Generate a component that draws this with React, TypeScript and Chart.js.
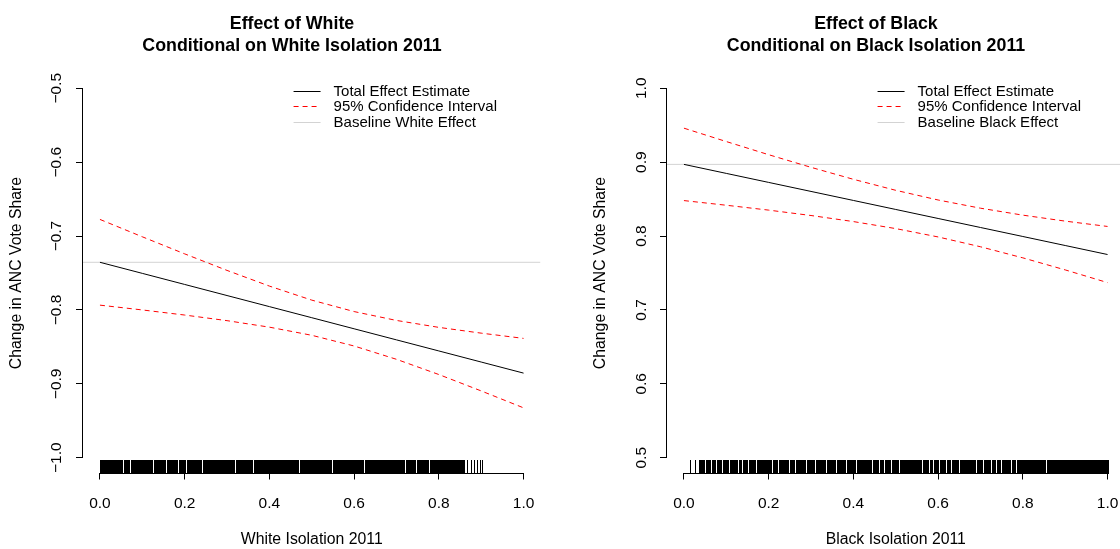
import React, { useEffect, useRef } from "react";
import { Chart, registerables } from "chart.js";

Chart.register(...registerables);

// ---------------- data ----------------
const xValues = [0, 0.1, 0.2, 0.3, 0.4, 0.5, 0.6, 0.7, 0.8, 0.9, 1.0];

const whiteEstimate = [-0.7355, -0.7505, -0.7655, -0.7805, -0.7955, -0.8105, -0.8255, -0.8405, -0.8555, -0.8705, -0.8855];
const whiteUpper = [-0.6775, -0.701, -0.7241, -0.7465, -0.7677, -0.7867, -0.8022, -0.8142, -0.8236, -0.8314, -0.8385];
const whiteLower = [-0.7935, -0.8, -0.8069, -0.8145, -0.8233, -0.8343, -0.8488, -0.8668, -0.8874, -0.9096, -0.9325];
const whiteBaseline = -0.7355;

const blackEstimate = [0.897, 0.8848, 0.8726, 0.8604, 0.8482, 0.836, 0.8238, 0.8116, 0.7994, 0.7872, 0.775];
const blackUpper = [0.946, 0.9279, 0.9101, 0.893, 0.8768, 0.8619, 0.8488, 0.8377, 0.8283, 0.8202, 0.813];
const blackLower = [0.848, 0.8417, 0.8351, 0.8278, 0.8196, 0.8101, 0.7988, 0.7855, 0.7705, 0.7542, 0.737];
const blackBaseline = 0.897;

const xTicks = [0, 0.2, 0.4, 0.6, 0.8, 1.0];
const whiteYTicks = [-1.0, -0.9, -0.8, -0.7, -0.6, -0.5];
const blackYTicks = [0.5, 0.6, 0.7, 0.8, 0.9, 1.0];

// rug: covered span, thin white gaps inside it, and isolated ticks
const whiteRugSpan = [0.0, 0.86];
const whiteRugGaps = [0.055, 0.071, 0.126, 0.156, 0.185, 0.203, 0.24, 0.319, 0.362, 0.469, 0.548, 0.623, 0.721, 0.745, 0.776];
const whiteRugTicks = [0.867, 0.875, 0.883, 0.89, 0.898, 0.902];

const blackRugSpan = [0.0355, 1.0];
const blackRugGaps = [0.0496, 0.0646, 0.0749, 0.0906, 0.106, 0.128, 0.138, 0.152, 0.169, 0.209, 0.223, 0.248, 0.262, 0.288, 0.31, 0.335, 0.359, 0.382, 0.405, 0.407, 0.445, 0.461, 0.473, 0.489, 0.508, 0.563, 0.579, 0.587, 0.603, 0.619, 0.63, 0.65, 0.69, 0.705, 0.725, 0.737, 0.749, 0.772, 0.784, 0.855];
const blackRugTicks = [0.0134, 0.026];

const whiteTitle = ["Effect of White", "Conditional on White Isolation 2011"];
const blackTitle = ["Effect of Black", "Conditional on Black Isolation 2011"];
const whiteXLabel = "White Isolation 2011";
const blackXLabel = "Black Isolation 2011";
const yLabel = "Change in ANC Vote Share";
const whiteLegend = ["Total Effect Estimate", "95% Confidence Interval", "Baseline White Effect"];
const blackLegend = ["Total Effect Estimate", "95% Confidence Interval", "Baseline Black Effect"];

const X_MIN = -0.04;
const X_MAX = 1.04;

// ---------------- style ----------------
const FONT = "'Liberation Sans', Arial, Helvetica, sans-serif";
const W = 584;
const H = 549;
const RED = "#ff0000";
const GRAY = "#d3d3d3";

type PanelCfg = {
  title: string[];
  xLabel: string;
  est: number[];
  upper: number[];
  lower: number[];
  baseline: number;
  yTicks: number[];
  rugSpan: number[];
  rugGaps: number[];
  rugTicks: number[];
  legend: string[];
  tickPad: number;
};

const fmt = (v: number) => (v < 0 ? "\u2212" : "") + Math.abs(v).toFixed(1);
const pts = (ys: number[]) => xValues.map((x, i) => ({ x, y: ys[i] }));

function buildConfig(p: PanelCfg): any {
  const yMin = p.yTicks[0] - 0.02;
  const yMax = p.yTicks[p.yTicks.length - 1] + 0.02;

  const rPlugin = {
    id: "rstyle",
    afterDraw(chart: any) {
      const ctx = chart.ctx;
      const xs = chart.scales.x;
      const ys = chart.scales.y;
      const ca = chart.chartArea;
      ctx.save();
      // R-style axis lines from first to last tick
      ctx.strokeStyle = "#000";
      ctx.lineWidth = 1;
      ctx.beginPath();
      const ax = Math.round(ca.left) - 0.5;
      ctx.moveTo(ax, ys.getPixelForValue(p.yTicks[0]));
      ctx.lineTo(ax, ys.getPixelForValue(p.yTicks[p.yTicks.length - 1]));
      const ay = Math.round(ca.bottom) + 0.5;
      ctx.moveTo(xs.getPixelForValue(xTicks[0]), ay);
      ctx.lineTo(xs.getPixelForValue(xTicks[xTicks.length - 1]), ay);
      ctx.stroke();

      // rug
      ctx.fillStyle = "#000";
      const yb = Math.round(ys.getPixelForValue(yMin));
      const yt = Math.round(ys.getPixelForValue(yMin) - 12.5);
      const hh = yb - yt + 1;
      const edges = [p.rugSpan[0], ...p.rugGaps, p.rugSpan[1]];
      for (let i = 0; i < edges.length - 1; i++) {
        const a = Math.round(xs.getPixelForValue(edges[i])) + (i === 0 ? 0 : 1);
        const b = Math.round(xs.getPixelForValue(edges[i + 1])) + (i === edges.length - 2 ? 1 : 0);
        if (b > a) ctx.fillRect(a, yt, b - a, hh);
      }
      for (const t of p.rugTicks) {
        ctx.fillRect(Math.round(xs.getPixelForValue(t)), yt, 1, hh);
      }

      // legend (R style, top right, no box)
      ctx.font = `15px ${FONT}`;
      const maxW = Math.max(...p.legend.map((s) => ctx.measureText(s).width));
      const tx = ca.right - 43.5 - maxW;
      const styles = [
        { color: "#000", dash: [] as number[] },
        { color: RED, dash: [5, 4] },
        { color: GRAY, dash: [] as number[] },
      ];
      p.legend.forEach((label, i) => {
        const ly = Math.round(ca.top + 17.2 + i * 15.5) + 0.5;
        ctx.strokeStyle = styles[i].color;
        ctx.setLineDash(styles[i].dash);
        ctx.lineWidth = 1;
        ctx.beginPath();
        ctx.moveTo(tx - 40, ly);
        ctx.lineTo(tx - 13, ly);
        ctx.stroke();
        ctx.setLineDash([]);
        ctx.fillStyle = "#000";
        ctx.textAlign = "left";
        ctx.textBaseline = "middle";
        ctx.fillText(label, tx, ly + 0.8);
      });
      ctx.restore();
    },
  };

  const tickFont = { family: FONT, size: 15.5 };
  const titleFont = { family: FONT, size: 15.8 };

  return {
    type: "line",
    data: {
      datasets: [
        {
          label: p.legend[2],
          data: [
            { x: X_MIN, y: p.baseline },
            { x: X_MAX, y: p.baseline },
          ],
          borderColor: GRAY,
          borderWidth: 1,
          pointRadius: 0,
          order: 4,
        },
        {
          label: p.legend[1],
          data: pts(p.upper),
          borderColor: RED,
          borderWidth: 1,
          borderDash: [5, 4],
          pointRadius: 0,
          order: 2,
        },
        {
          label: p.legend[1] + " (lower)",
          data: pts(p.lower),
          borderColor: RED,
          borderWidth: 1,
          borderDash: [5, 4],
          pointRadius: 0,
          order: 3,
        },
        {
          label: p.legend[0],
          data: pts(p.est),
          borderColor: "#000",
          borderWidth: 1,
          pointRadius: 0,
          order: 1,
        },
      ],
    },
    options: {
      animation: false,
      responsive: false,
      devicePixelRatio: 1,
      layout: { padding: 0 },
      elements: { line: { tension: 0 } },
      plugins: {
        legend: { display: false },
        tooltip: { enabled: false },
        title: {
          display: true,
          text: p.title,
          color: "#000",
          font: { family: FONT, size: 17.8, weight: "bold", lineHeight: 22 / 17.8 },
          padding: { top: 13.5, bottom: 16 },
        },
      },
      scales: {
        x: {
          type: "linear",
          position: "bottom",
          min: X_MIN,
          max: X_MAX,
          afterBuildTicks: (s: any) => {
            s.ticks = xTicks.map((v) => ({ value: v }));
          },
          afterFit: (s: any) => {
            s.height = H - 472.5;
          },
          grid: { display: true, drawOnChartArea: false, drawTicks: true, tickLength: 7, tickColor: "#000", tickWidth: 1 },
          border: { display: false },
          ticks: {
            font: tickFont,
            color: "#000",
            padding: 14.7,
            autoSkip: false,
            minRotation: 0,
            maxRotation: 0,
            callback: (v: number) => fmt(v),
          },
          title: { display: true, text: p.xLabel, color: "#000", font: titleFont, padding: { top: 0, bottom: 0 } },
        },
        y: {
          type: "linear",
          position: "left",
          min: yMin,
          max: yMax,
          afterBuildTicks: (s: any) => {
            s.ticks = p.yTicks.map((v) => ({ value: v }));
          },
          afterFit: (s: any) => {
            s.width = 83;
          },
          grid: { display: true, drawOnChartArea: false, drawTicks: true, tickLength: 7, tickColor: "#000", tickWidth: 1 },
          border: { display: false },
          ticks: {
            font: tickFont,
            color: "#000",
            padding: p.tickPad,
            autoSkip: false,
            minRotation: 90,
            maxRotation: 90,
            crossAlign: "center",
            callback: (v: number) => fmt(v),
          },
          title: { display: true, text: yLabel, color: "#000", font: titleFont, padding: { top: 7.6, bottom: 0 } },
        },
        yRight: {
          type: "linear",
          position: "right",
          display: true,
          grid: { display: false, drawTicks: false },
          border: { display: false },
          ticks: { display: false },
          afterFit: (s: any) => {
            s.width = W - 540.5;
          },
        },
      },
    },
    plugins: [rPlugin],
  };
}

const whiteCfg: PanelCfg = {
  title: whiteTitle,
  xLabel: whiteXLabel,
  est: whiteEstimate,
  upper: whiteUpper,
  lower: whiteLower,
  baseline: whiteBaseline,
  yTicks: whiteYTicks,
  rugSpan: whiteRugSpan,
  rugGaps: whiteRugGaps,
  rugTicks: whiteRugTicks,
  legend: whiteLegend,
  tickPad: 3.5,
};

const blackCfg: PanelCfg = {
  title: blackTitle,
  xLabel: blackXLabel,
  est: blackEstimate,
  upper: blackUpper,
  lower: blackLower,
  baseline: blackBaseline,
  yTicks: blackYTicks,
  rugSpan: blackRugSpan,
  rugGaps: blackRugGaps,
  rugTicks: blackRugTicks,
  legend: blackLegend,
  tickPad: 8.0,
};

function Panel({ cfg, left }: { cfg: PanelCfg; left: number }) {
  const ref = useRef<HTMLCanvasElement>(null);
  useEffect(() => {
    const chart = new Chart(ref.current as HTMLCanvasElement, buildConfig(cfg));
    return () => chart.destroy();
  }, [cfg]);
  return (
    <canvas
      ref={ref}
      width={W}
      height={H}
      style={{ position: "absolute", left, top: 0, width: W, height: H }}
    />
  );
}

export default function App() {
  return (
    <div
      style={{
        position: "absolute",
        left: 0,
        top: 0,
        width: 1120,
        height: 549,
        overflow: "hidden",
        background: "#ffffff",
      }}
    >
      <Panel cfg={whiteCfg} left={0} />
      <Panel cfg={blackCfg} left={584} />
    </div>
  );
}
